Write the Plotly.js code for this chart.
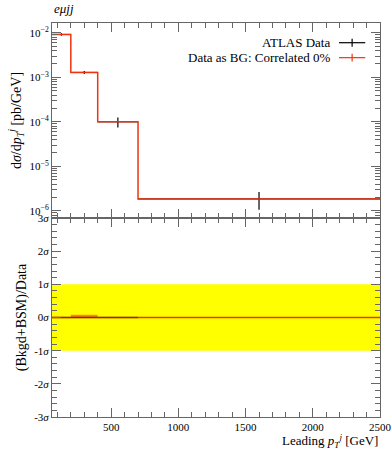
<!DOCTYPE html>
<html><head><meta charset="utf-8">
<script src="https://cdn.plot.ly/plotly-3.0.1.min.js"></script>
<style>html,body{margin:0;padding:0;background:#fff}#plot{width:392px;height:450px}</style>
</head><body><div id="plot"></div>
<script>
// ---- data ----
const binEdges = [60, 200, 400, 700, 2500];
const dataCenters = [130, 300, 550, 1600];
const dataVals = [9.2e-3, 1.29e-3, 1.0e-4, 1.86e-6];
const dataErrUp = [0.6e-3, 0.1e-3, 0.25e-4, 0.8e-6];
const dataErrDn = [0.6e-3, 0.1e-3, 0.25e-4, 0.8e-6];
const predVals = [9.2e-3, 1.29e-3, 1.0e-4, 1.86e-6];
const ratioVals = [0, 0, 0, 0];
const ratioErrUp = [0, 0.08, 0, 0];
const dataRatioVals = [0, 0, 0];
const bandLo = [-1, -1, -1, -1];
const bandHi = [1, 1, 1, 1];
const yTickVals = [1e-6, 1e-5, 1e-4, 1e-3, 1e-2];
const yTickText = ['10<sup>−6</sup>', '10<sup>−5</sup>', '10<sup>−4</sup>', '10<sup>−3</sup>', '10<sup>−2</sup>'];
const rTickVals = [-3, -2, -1, 0, 1, 2, 3];
const rTickText = ['-3<i>σ</i>', '-2<i>σ</i>', '-1<i>σ</i>', '0<i>σ</i>', '1<i>σ</i>', '2<i>σ</i>', '3<i>σ</i>'];
const xTickVals = [500, 1000, 1500, 2000, 2500];
const legendNames = ['ATLAS Data', 'Data as BG: Correlated 0%'];

// ---- helpers ----
const stepY = v => v.concat([v[v.length - 1]]);
const halfW = dataCenters.map((c, i) => (binEdges[i + 1] - binEdges[i]) / 2);
const minorLog = [];
for (let e = -7; e <= -1; e++) for (let m = 2; m <= 9; m++) minorLog.push(m * Math.pow(10, e));

const RED = '#EE3311';
const AX = '#666';
const FONT = 'Liberation Serif, serif';

const traces = [
  {x: binEdges, y: stepY(bandLo), xaxis: 'x2', yaxis: 'y2', mode: 'lines', line: {shape: 'hv', width: 0, color: '#FFFF00'}, hoverinfo: 'skip'},
  {x: binEdges, y: stepY(bandHi), xaxis: 'x2', yaxis: 'y2', mode: 'lines', line: {shape: 'hv', width: 0, color: '#FFFF00'}, fill: 'tonexty', fillcolor: '#FFFF00', hoverinfo: 'skip'},
  {x: binEdges, y: stepY(ratioVals), xaxis: 'x2', yaxis: 'y2', mode: 'lines', line: {shape: 'hv', width: 0, color: 'rgba(0,0,0,0)'}, hoverinfo: 'skip'},
  {x: binEdges, y: stepY(ratioErrUp), xaxis: 'x2', yaxis: 'y2', mode: 'lines', line: {shape: 'hv', width: 0, color: 'rgba(0,0,0,0)'}, fill: 'tonexty', fillcolor: 'rgba(238,90,17,0.7)', hoverinfo: 'skip'},
  {x: binEdges, y: stepY(ratioVals), xaxis: 'x2', yaxis: 'y2', mode: 'lines', line: {shape: 'hv', width: 1.5, color: RED}},
  {x: binEdges.slice(0, 4), y: stepY(dataRatioVals), xaxis: 'x2', yaxis: 'y2', mode: 'lines', line: {shape: 'hv', width: 1.5, color: 'rgba(60,40,0,0.55)'}},
  {x: dataCenters, y: dataVals, xaxis: 'x', yaxis: 'y', mode: 'markers', marker: {size: 1, color: '#000'},
   error_y: {type: 'data', symmetric: false, array: dataErrUp, arrayminus: dataErrDn, width: 0, thickness: 1.2, color: '#000'},
   error_x: {type: 'data', array: halfW, width: 0, thickness: 1, color: '#000'}},
  {x: binEdges, y: stepY(predVals), xaxis: 'x', yaxis: 'y', mode: 'lines', line: {shape: 'hv', width: 1.5, color: RED}}
];

const commonAx = {
  showline: true, linecolor: AX, linewidth: 1, mirror: 'allticks',
  ticks: 'inside', tickcolor: AX, ticklen: 9, tickwidth: 1,
  showgrid: false, zeroline: false,
  tickfont: {family: FONT, size: 11, color: '#000'}
};

const layout = {
  width: 392, height: 450,
  margin: {l: 52, r: 12, t: 23, b: 33},
  paper_bgcolor: '#fff', plot_bgcolor: '#fff',
  showlegend: false,
  font: {family: FONT, color: '#000'},
  xaxis: Object.assign({}, commonAx, {domain: [0, 1], anchor: 'y', range: [60, 2500], matches: 'x2',
    tickvals: xTickVals, showticklabels: false,
    minor: {ticks: 'inside', ticklen: 5, tickcolor: AX, dtick: 100, tick0: 0, showgrid: false}}),
  yaxis: Object.assign({}, commonAx, {domain: [0.505, 1], anchor: 'x', type: 'log', range: [-6.16, -1.78],
    tickvals: yTickVals, ticktext: yTickText,
    minor: {ticks: 'inside', ticklen: 5, tickcolor: AX, tickvals: minorLog, showgrid: false},
    title: {text: 'd<i>σ</i>/d<i>p</i><sub><i>T</i></sub><sup><i>j</i></sup> [pb/GeV]', font: {family: FONT, size: 14}, standoff: 4}}),
  xaxis2: Object.assign({}, commonAx, {domain: [0, 1], anchor: 'y2', range: [60, 2500],
    tickvals: xTickVals,
    minor: {ticks: 'inside', ticklen: 5, tickcolor: AX, dtick: 100, tick0: 0, showgrid: false}}),
  yaxis2: Object.assign({}, commonAx, {domain: [0, 0.505], anchor: 'x2', range: [-3, 3],
    tickvals: rTickVals, ticktext: rTickText,
    minor: {ticks: 'inside', ticklen: 5, tickcolor: AX, dtick: 0.2, tick0: 0, showgrid: false},
    title: {text: '(Bkgd+BSM)/Data', font: {family: FONT, size: 14}, standoff: 4}}),
  annotations: [
    {xref: 'paper', yref: 'paper', x: 0, y: 1, yshift: 5, xanchor: 'left', yanchor: 'bottom', showarrow: false,
     text: '<i>eμjj</i>', font: {family: FONT, size: 13}},
    {xref: 'paper', yref: 'paper', x: 1, y: 0, yshift: -13, xanchor: 'right', yanchor: 'top', showarrow: false,
     text: 'Leading <i>p</i><sub><i>T</i></sub><sup><i>j</i></sup> [GeV]', font: {family: FONT, size: 13}},
    {xref: 'paper', yref: 'paper', x: 0.855, y: 0.95, xanchor: 'right', yanchor: 'middle', showarrow: false,
     text: legendNames[0], font: {family: FONT, size: 13}},
    {xref: 'paper', yref: 'paper', x: 0.855, y: 0.912, xanchor: 'right', yanchor: 'middle', showarrow: false,
     text: legendNames[1], font: {family: FONT, size: 13}}
  ],
  shapes: [
    {type: 'line', xref: 'paper', yref: 'paper', x0: 0.875, x1: 0.955, y0: 0.95, y1: 0.95, line: {color: '#000', width: 1.2}},
    {type: 'line', xref: 'paper', yref: 'paper', x0: 0.915, x1: 0.915, y0: 0.94, y1: 0.96, line: {color: '#000', width: 1.2}},
    {type: 'line', xref: 'paper', yref: 'paper', x0: 0.875, x1: 0.955, y0: 0.912, y1: 0.912, line: {color: RED, width: 1.2}},
    {type: 'line', xref: 'paper', yref: 'paper', x0: 0.915, x1: 0.915, y0: 0.902, y1: 0.922, line: {color: RED, width: 1.2}}
  ]
};

Plotly.newPlot('plot', traces, layout, {staticPlot: true, displayModeBar: false});
</script>
</body></html>
